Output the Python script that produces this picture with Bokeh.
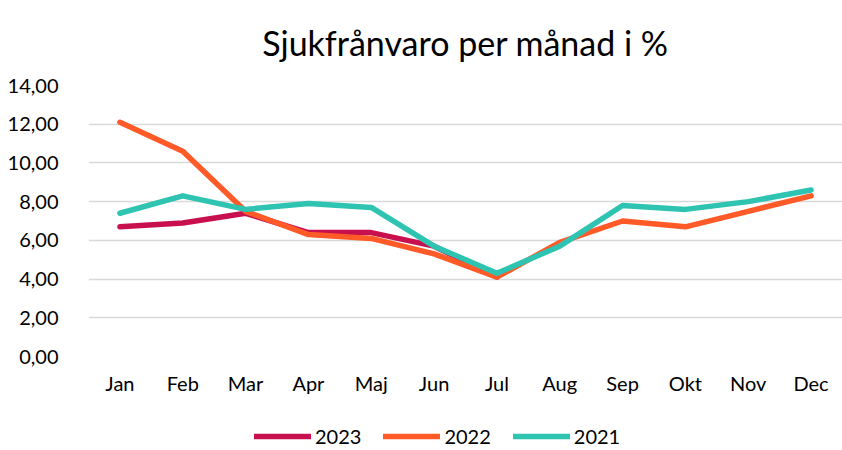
from bokeh.plotting import figure
from bokeh.layouts import column
from bokeh.models import (Range1d, FixedTicker, CustomJSTickFormatter, Legend, LegendItem,
                          ColumnDataSource)
from bokeh.embed import file_html
from bokeh.resources import INLINE
import numpy as np

months = ["Jan", "Feb", "Mar", "Apr", "Maj", "Jun", "Jul", "Aug", "Sep", "Okt", "Nov", "Dec"]
v2023 = [6.7, 6.9, 7.4, 6.4, 6.4, 5.7, 4.1, np.nan, np.nan, np.nan, np.nan, np.nan]
v2022 = [12.1, 10.6, 7.5, 6.3, 6.1, 5.3, 4.1, 5.9, 7.0, 6.7, 7.5, 8.3]
v2021 = [7.4, 8.3, 7.6, 7.9, 7.7, 5.7, 4.3, 5.7, 7.8, 7.6, 8.0, 8.6]
series_names = ["2023", "2022", "2021"]
series_colors = ["#C8104F", "#FF5A28", "#2EC4B1"]
y_ticks = [0, 2, 4, 6, 8, 10, 12, 14]

FONT = "Lato"

p = figure(x_range=months, y_range=Range1d(0, 14), frame_width=754, frame_height=271,
           output_backend="svg", toolbar_location=None,
           min_border_left=88, min_border_right=0, min_border_top=0, min_border_bottom=47)
p.outline_line_color = None
p.title.text = "Sjukfrånvaro per månad i %"
p.title.align = "center"
p.title.vertical_align = "top"
p.title.text_font = FONT
p.title.text_font_size = "34px"
p.title.text_font_style = "normal"
p.title.text_color = "#000000"
p.title.standoff = 42

p.xgrid.grid_line_color = None
p.ygrid.grid_line_color = "#D9D9D9"
p.ygrid.grid_line_width = 1.5
p.yaxis.ticker = FixedTicker(ticks=y_ticks)
p.yaxis.formatter = CustomJSTickFormatter(code="return tick.toFixed(2).replace('.', ',');")
for ax in (p.xaxis[0], p.yaxis[0]):
    ax.axis_line_color = None
    ax.major_tick_line_color = None
    ax.minor_tick_line_color = None
    ax.major_label_text_font = FONT
    ax.major_label_text_font_size = "20px"
    ax.major_label_text_color = "#000000"
p.yaxis.major_label_standoff = 24
p.xaxis.major_label_standoff = 8

series = [v2023, v2022, v2021]
for name, vals, col in zip(series_names, series, series_colors):
    src = ColumnDataSource(dict(x=months, y=vals))
    p.line("x", "y", source=src, line_color=col, line_width=5.5,
           line_join="round", line_cap="round")

# legend strip below the chart
lg = figure(x_range=months, y_range=Range1d(100, 101), width=842, height=45,
            output_backend="svg", toolbar_location=None,
            x_axis_location=None, y_axis_location=None,
            min_border_left=0, min_border_right=0, min_border_top=0, min_border_bottom=0)
lg.outline_line_color = None
lg.xgrid.grid_line_color = None
lg.ygrid.grid_line_color = None
items = []
for name, vals, col in zip(series_names, series, series_colors):
    src = ColumnDataSource(dict(x=months, y=vals))
    r = lg.line("x", "y", source=src, line_color=col, line_width=5.5, line_cap="round")
    items.append(LegendItem(label=name, renderers=[r]))

legend = Legend(items=items, orientation="horizontal", location=(166, 0),
                label_text_font=FONT, label_text_font_size="20px", label_text_color="#000000",
                glyph_width=57, glyph_height=20, spacing=22, label_standoff=4,
                border_line_color=None, background_fill_alpha=0, padding=0, margin=0)
lg.add_layout(legend, "center")

layout = column(p, lg, spacing=0)
open("out.html", "w").write(file_html(layout, INLINE))
